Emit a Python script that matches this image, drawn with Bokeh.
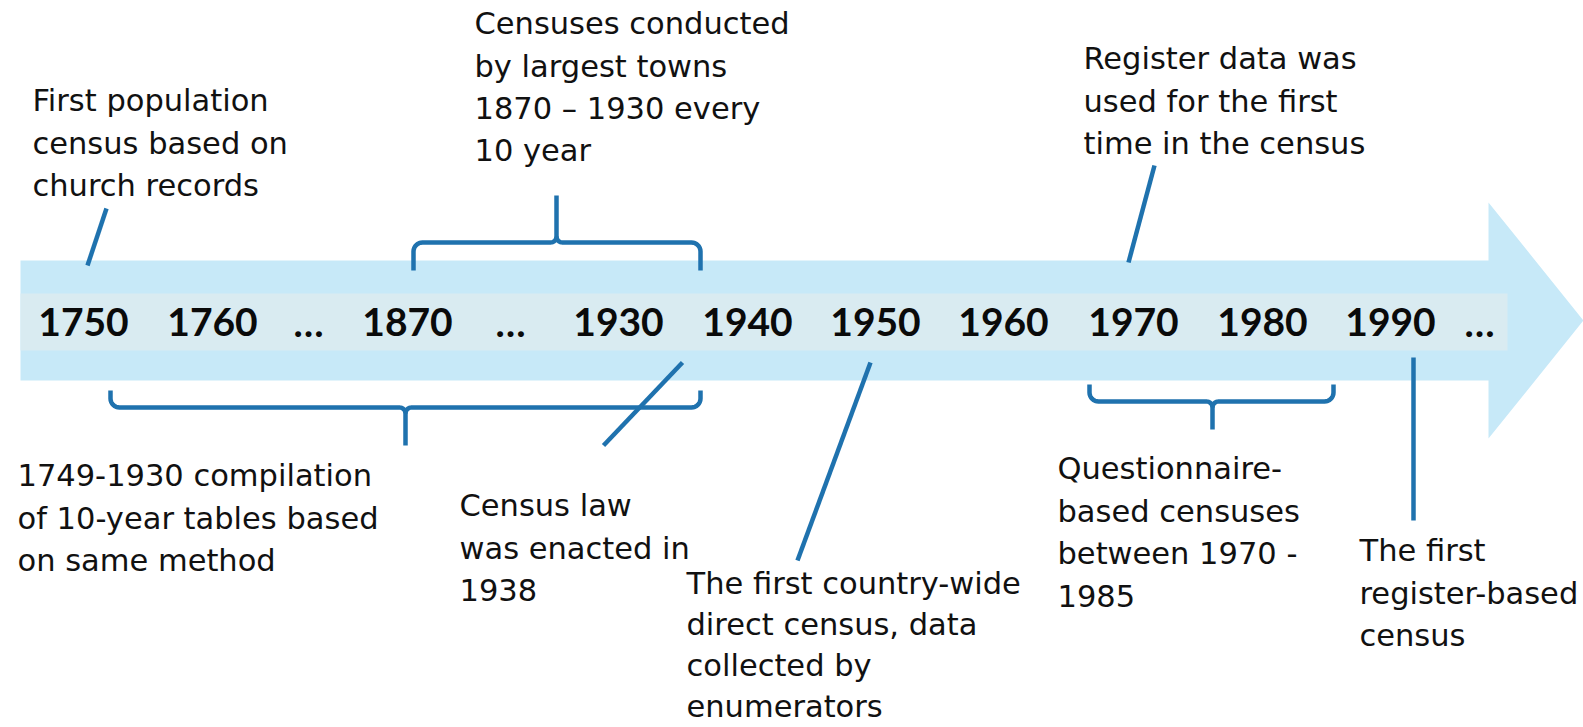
import math
from bokeh.plotting import figure
from bokeh.models import Range1d
from bokeh.core.properties import value
from bokeh.embed import file_html
from bokeh.resources import INLINE

# ---------------- data ----------------
years = ["1750", "1760", "…", "1870", "…", "1930", "1940", "1950", "1960",
         "1970", "1980", "1990", "…"]

block_texts = [
    ["First population", "census based on", "church records"],
    ["Censuses conducted", "by largest towns", "1870 – 1930 every", "10 year"],
    ["Register data was", "used for the first", "time in the census"],
    ["1749-1930 compilation", "of 10-year tables based", "on same method"],
    ["Census law", "was enacted in", "1938"],
    ["The first country-wide", "direct census, data", "collected by", "enumerators"],
    ["Questionnaire-", "based censuses", "between 1970 -", "1985"],
    ["The first", "register-based", "census"],
]

# ---------------- layout (screen-like pixel coordinates) ----------------
year_x = [83, 212, 308, 407, 510, 618, 747, 875, 1003, 1133, 1262, 1390, 1479]
year_baseline = 337
YEAR_FS = 39

block_anchor = [(32, 112), (474, 35), (1083, 70), (17, 487), (459, 517),
                (686, 595), (1057, 480), (1359, 562)]
block_gap = [42.3, 42.3, 42.3, 42.3, 42.3, 40.8, 42.3, 42.3]
TEXT_FS = 30.5
BASELINE_FIX = 0.385   # renderer places "alphabetic" text this many em lower

band_left, band_top, band_bottom = 20, 260, 380
head_x, head_top, head_bottom, tip_x = 1488, 202, 438, 1583
strip_top, strip_bottom, strip_right = 293, 350, 1507

# (x_left, x_right, y_horizontal, y_ends, x_stem, y_stem)
brackets = [
    (413, 700, 242, 270, 556, 195),
    (110, 700, 407, 390, 405, 445),
    (1089, 1333, 401, 384, 1212, 429),
]
pointers = [
    (87, 265, 106, 208),
    (682, 362, 603, 445),
    (870, 362, 797, 560),
    (1154, 165, 1128, 262),
    (1413, 357, 1413, 520),
]

BAND = "#c7e9f8"
STRIP = "#d9ebf1"
BLUE = "#1f72ae"

W, H = 1583, 727
p = figure(width=W, height=H, x_range=Range1d(0, W), y_range=Range1d(H, 0),
           output_backend="svg", toolbar_location=None,
           x_axis_location=None, y_axis_location=None, min_border=0)
p.grid.visible = False
p.outline_line_color = None
p.background_fill_color = "white"
p.border_fill_color = "white"

# arrow
cy = (band_top + band_bottom) / 2
p.patch([band_left, head_x, head_x, tip_x, head_x, head_x, band_left],
        [band_top, band_top, head_top, cy, head_bottom, band_bottom, band_bottom],
        fill_color=BAND, line_color=None)
p.quad(left=[band_left], right=[strip_right], top=[strip_top], bottom=[strip_bottom],
       fill_color=STRIP, line_color=None)

# year labels
p.text(x=year_x, y=[year_baseline - BASELINE_FIX * YEAR_FS] * len(years), text=years,
       text_font=value("Lato"), text_font_style="bold", text_font_size=f"{YEAR_FS}px",
       text_align="center", text_baseline="alphabetic", text_color="#0a0a0a")


def quarter(cx, cy, fx, fy, n=8):
    pts = []
    for i in range(n + 1):
        t = math.pi / 2 * i / n
        pts.append((cx + fx(t), cy + fy(t)))
    return pts


def brace(xl, xr, yh, yend, xs, ystem, r=9, r2=6):
    d = 1 if yend > yh else -1
    left = [(xl, yend)]
    left += quarter(xl + r, yh + d * r, lambda t: -r * math.cos(t), lambda t: -d * r * math.sin(t))
    left += quarter(xs - r2, yh - d * r2, lambda t: r2 * math.sin(t), lambda t: d * r2 * math.cos(t))
    left += [(xs, ystem)]
    right = quarter(xs + r2, yh - d * r2, lambda t: -r2 * math.cos(t), lambda t: d * r2 * math.sin(t))
    right += quarter(xr - r, yh + d * r, lambda t: r * math.sin(t), lambda t: -d * r * math.cos(t))
    right += [(xr, yend)]
    return left, right


xs_list, ys_list = [], []
for b in brackets:
    for part in brace(*b):
        xs_list.append([q[0] for q in part])
        ys_list.append([q[1] for q in part])
for (x0, y0, x1, y1) in pointers:
    xs_list.append([x0, x1])
    ys_list.append([y0, y1])
p.multi_line(xs_list, ys_list, line_color=BLUE, line_width=4.5, line_join="round")

# annotation texts
tx, ty, tt = [], [], []
for lines, (ax, ay), gap in zip(block_texts, block_anchor, block_gap):
    for i, line in enumerate(lines):
        tx.append(ax)
        ty.append(ay + i * gap - BASELINE_FIX * TEXT_FS)
        tt.append(line)
p.text(x=tx, y=ty, text=tt, text_font=value("DejaVu Sans"), text_font_size=f"{TEXT_FS}px",
       text_align="left", text_baseline="alphabetic", text_color="#111111")

open("out.html", "w").write(file_html(p, INLINE))
